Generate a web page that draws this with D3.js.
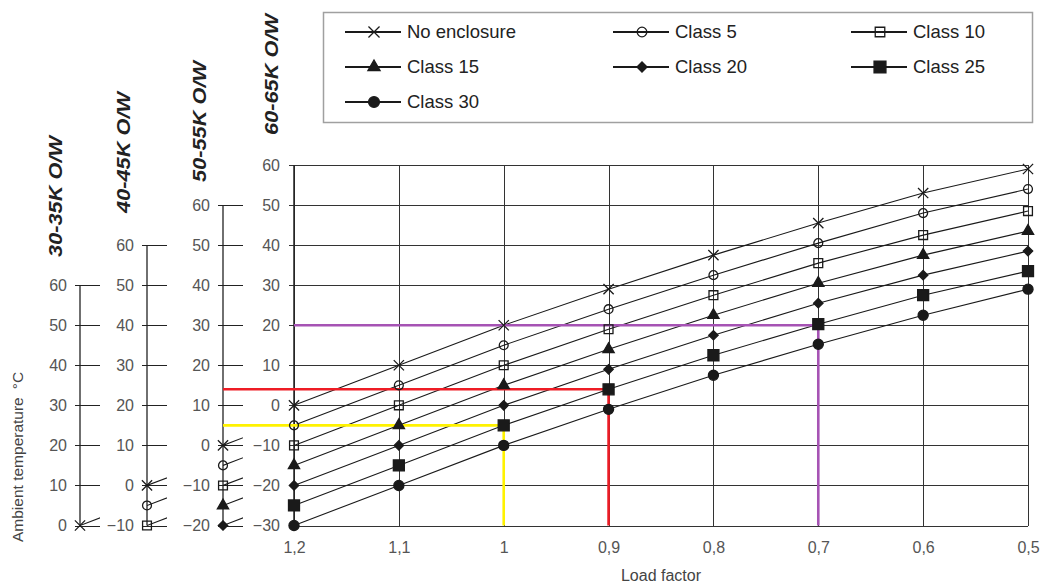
<!DOCTYPE html>
<html>
<head>
<meta charset="utf-8">
<script src="https://cdn.jsdelivr.net/npm/d3@7"></script>
<style>
  body { margin: 0; background: #fff; }
  text { font-family: "Liberation Sans", Arial, sans-serif; }
</style>
</head>
<body>
<svg id="chart" width="1042" height="585"></svg>
<script>
// ---- data (main scale = 60-65K O/W) ----
const loads = [1.2, 1.1, 1.0, 0.9, 0.8, 0.7, 0.6, 0.5];
const seriesNames = ["No enclosure", "Class 5", "Class 10", "Class 15", "Class 20", "Class 25", "Class 30"];
const noEnclosure = [0, 10, 20, 29, 37.5, 45.5, 53, 59];
const class5  = [-5, 5, 15, 24, 32.5, 40.5, 48, 54];
const class10 = [-10, 0, 10, 19, 27.5, 35.5, 42.5, 48.5];
const class15 = [-15, -5, 5, 14, 22.5, 30.5, 37.5, 43.5];
const class20 = [-20, -10, 0, 9, 17.5, 25.5, 32.5, 38.5];
const class25 = [-25, -15, -5, 4, 12.5, 20.25, 27.5, 33.5];
const class30 = [-30, -20, -10, -1, 7.5, 15.25, 22.5, 29];
const seriesValues = [noEnclosure, class5, class10, class15, class20, class25, class30];

// the four temperature scales, each is the main one shifted
const axisNames = ["30-35K O/W", "40-45K O/W", "50-55K O/W", "60-65K O/W"];
const axisShift = [30, 20, 10, 0];
const axisMin = [0, -10, -20, -30];
const axisMax = 60;

// worked examples (load, temperature on main scale, which axis the line starts from)
const guideLoads = [1.0, 0.9, 0.7];
const guideTemps = [-5, 4, 20];
const guideAxis = [2, 2, 3];

// ---- styles / layout ----
const guideColors = ["#fff200", "#ee1c25", "#a653b4"];
const markerShape = ["x", "circle", "square", "triangle", "diamond", "square", "circle"];
const markerFill = [false, false, false, true, true, true, true];
const axisX = [80, 147, 223, 294];
const plotRight = 1028, plotTop = 165, plotBottom = 525.5;
const ink = "#1a1a1a", labelGrey = "#555";

const svg = d3.select("#chart");
const fmt = d3.formatLocale({decimal: ",", thousands: ".", grouping: [3], currency: ["", ""]}).format(".2~f");

const x = d3.scaleLinear().domain([1.2, 0.5]).range([axisX[3], plotRight]);
const y = d3.scaleLinear().domain([-30, 60]).range([plotBottom, plotTop]);

function marker(sel, shape, filled, k) {
  let type, size;
  if (shape === "x") { type = d3.symbolX; size = 70 * k * k; }
  else if (shape === "circle") { type = d3.symbolCircle; size = (filled ? 80 : 62) * k * k; }
  else if (shape === "square") { type = d3.symbolSquare; size = (filled ? 121 : 78) * k * k; }
  else if (shape === "triangle") { type = d3.symbolTriangle; size = 55 * k * k; }
  else { type = d3.symbolSquare; size = 44 * k * k; }
  sel.attr("d", d3.symbol().type(type).size(size)())
    .attr("fill", filled ? ink : "none")
    .attr("stroke", ink)
    .attr("stroke-width", 1.3)
    .attr("transform", function () {
      return d3.select(this).attr("transform") + (shape === "diamond" ? " rotate(45)" : "");
    });
}

// ---- main grid ----
const yTicks = d3.range(-30, 61, 10);
svg.append("g")
  .attr("transform", `translate(${axisX[3] - 5},0)`)
  .call(d3.axisLeft(y).tickValues(yTicks).tickSize(-(plotRight - axisX[3] + 5)).tickSizeOuter(0).tickPadding(9))
  .call(g => g.select(".domain").remove())
  .call(g => g.selectAll("line").attr("stroke", "#333").attr("shape-rendering", "crispEdges"))
  .call(g => g.selectAll("text").attr("fill", labelGrey).attr("font-size", 16));

svg.append("g")
  .attr("transform", `translate(0,${plotBottom})`)
  .call(d3.axisBottom(x).tickValues(loads).tickFormat(fmt).tickSize(-(plotBottom - plotTop)).tickSizeOuter(0).tickPadding(16))
  .call(g => g.select(".domain").remove())
  .call(g => g.selectAll("line").attr("stroke", "#333").attr("shape-rendering", "crispEdges"))
  .call(g => g.selectAll("text").attr("fill", labelGrey).attr("font-size", 16));

svg.append("line")
  .attr("x1", axisX[3]).attr("x2", axisX[3])
  .attr("y1", plotTop).attr("y2", plotBottom)
  .attr("stroke", "#222").attr("stroke-width", 1.5);

// ---- extra temperature scales on the left ----
for (let i = 0; i < 3; i++) {
  const yA = d3.scaleLinear().domain([axisMin[i], axisMax])
    .range([y(axisMin[i] - axisShift[i]), y(axisMax - axisShift[i])]);
  svg.append("g")
    .attr("transform", `translate(${axisX[i] - 5},0)`)
    .call(d3.axisLeft(yA).tickValues(d3.range(axisMin[i], axisMax + 1, 10)).tickSize(-25).tickSizeOuter(0).tickPadding(8))
    .call(g => g.select(".domain").remove())
    .call(g => g.selectAll("line").attr("stroke", "#222").attr("shape-rendering", "crispEdges"))
    .call(g => g.selectAll("text").attr("fill", labelGrey).attr("font-size", 16));
  svg.append("line")
    .attr("x1", axisX[i]).attr("x2", axisX[i])
    .attr("y1", yA(axisMax)).attr("y2", yA(axisMin[i]))
    .attr("stroke", "#222").attr("stroke-width", 1.3);

  // the starts of the curves, read on this scale
  const xA = d3.scaleLinear().domain([1.2, 0.5]).range([axisX[i], axisX[i] + (plotRight - axisX[3])]);
  svg.append("clipPath").attr("id", "clip" + i)
    .append("rect").attr("x", axisX[i]).attr("y", 0).attr("width", 20).attr("height", 585);
  const lineA = d3.line().x(d => xA(d[0])).y(d => yA(d[1]));
  seriesValues.forEach((vals, s) => {
    if (vals[0] < axisMin[i]) return;
    svg.append("path")
      .attr("d", lineA(loads.map((l, j) => [l, vals[j]])))
      .attr("clip-path", `url(#clip${i})`)
      .attr("fill", "none").attr("stroke", ink).attr("stroke-width", 1.1);
    svg.append("path")
      .attr("transform", `translate(${xA(loads[0])},${yA(vals[0])})`)
      .call(marker, markerShape[s], markerFill[s], 1);
  });
}

// ---- scale titles ----
const titleBottoms = [257, 213, 182, 135];
const titleCentres = [56, 124, 200, 272];
axisNames.forEach((name, i) => {
  svg.append("text")
    .attr("transform", `translate(${titleCentres[i]},${titleBottoms[i]}) rotate(-90)`)
    .attr("dy", "0.36em")
    .attr("font-size", 18).attr("font-weight", "bold").attr("font-style", "italic")
    .attr("fill", "#222")
    .attr("textLength", 121).attr("lengthAdjust", "spacingAndGlyphs")
    .text(name);
});

// ---- curves ----
const line = d3.line().x(d => x(d[0])).y(d => y(d[1]));
seriesValues.forEach(vals => {
  svg.append("path")
    .attr("d", line(loads.map((l, j) => [l, vals[j]])))
    .attr("fill", "none").attr("stroke", ink).attr("stroke-width", 1.1);
});

// ---- coloured reading lines ----
guideLoads.forEach((l, i) => {
  svg.append("path")
    .attr("d", d3.line()([[axisX[guideAxis[i]], y(guideTemps[i])], [x(l), y(guideTemps[i])], [x(l), y(-30)]]))
    .attr("fill", "none").attr("stroke", guideColors[i]).attr("stroke-width", 2.6);
});

// ---- markers ----
seriesValues.forEach((vals, s) => {
  svg.append("g").selectAll("path")
    .data(loads.map((l, j) => [l, vals[j]]))
    .join("path")
    .attr("transform", d => `translate(${x(d[0])},${y(d[1])})`)
    .each(function () { d3.select(this).call(marker, markerShape[s], markerFill[s], 1); });
});

// ---- axis titles ----
svg.append("text")
  .attr("x", x(0.85)).attr("y", 581)
  .attr("text-anchor", "middle").attr("font-size", 16).attr("fill", "#444")
  .text("Load factor");

const yt = svg.append("text")
  .attr("transform", "translate(23,542) rotate(-90)")
  .attr("font-size", 15.5).attr("fill", "#444");
yt.append("tspan").text("Ambient temperature");
yt.append("tspan").attr("dx", 8).text("°C");

// ---- legend ----
svg.append("rect")
  .attr("x", 323.5).attr("y", 12.5).attr("width", 709).attr("height", 110)
  .attr("fill", "#fff").attr("stroke", "#a0a0a0").attr("stroke-width", 1.5);
const legCols = [345, 613, 851], legRows = [32, 67, 102];
seriesNames.forEach((name, s) => {
  const lx = legCols[s % 3], ly = legRows[Math.floor(s / 3)];
  const g = svg.append("g").attr("transform", `translate(${lx},${ly})`);
  g.append("line").attr("x1", 0).attr("x2", 56).attr("stroke", ink).attr("stroke-width", 2);
  g.append("path").attr("transform", "translate(29,0)").call(marker, markerShape[s], markerFill[s], 1.08);
  g.append("text").attr("x", 62).attr("dy", "0.35em")
    .attr("font-size", 18.5).attr("fill", "#222").text(name);
});
</script>
</body>
</html>
